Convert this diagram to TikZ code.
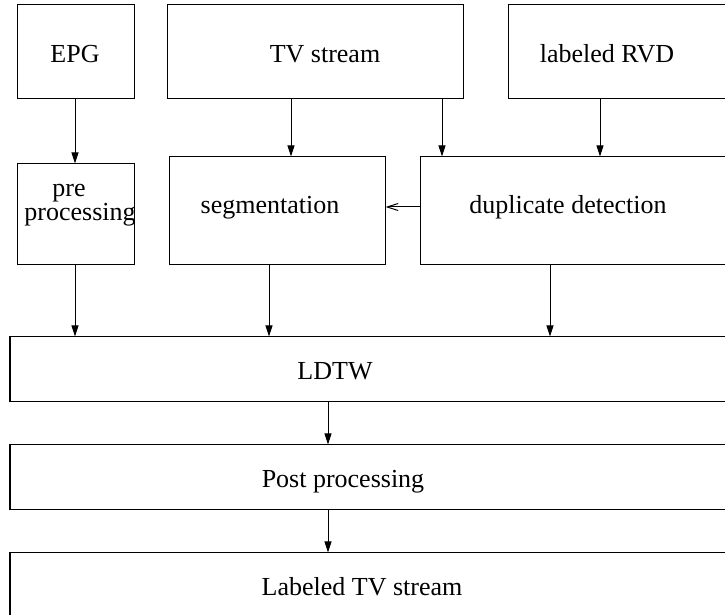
\documentclass[tikz,border=0pt]{standalone}
\usepackage{fontspec}
\setmainfont{Liberation Serif}
\usetikzlibrary{arrows.meta,fit}
\begin{document}
\begin{tikzpicture}[x=0.5pt,y=-0.5pt,
  box/.style={draw, line width=0.5pt, inner sep=0pt},
  lbl/.style={anchor=base, inner sep=0pt, font=\fontsize{13}{15.6}\selectfont},
  flow/.style={-{Triangle[length=5.5pt,width=3.5pt]}, line width=0.5pt},
  back/.style={-{Straight Barb[length=5.5pt,width=3.5pt]}, line width=0.5pt}]
\useasboundingbox (0,0) rectangle (725,615);
\clip (0,0) rectangle (725,615);

% input row
\node[box, fit={(17,5) (134,99)}]   (epg) {};
\node[box, fit={(167,5) (463,99)}]  (tv)  {};
\node[box, fit={(508,5) (745,99)}]  (rvd) {};

% analysis row
\node[box, fit={(17,164) (134,265)}]  (pre) {};
\node[box, fit={(169,157) (385,265)}] (seg) {};
\node[box, fit={(420,157) (745,265)}] (dup) {};

% processing chain
\node[box, fit={(10,337) (745,402)}] (ldtw) {};
\node[box, fit={(10,445) (745,510)}] (post) {};
\node[box, fit={(10,553) (745,640)}] (out)  {};

% labels
\node[lbl] (tepg) at (75,63)   {EPG};
\node[lbl] (ttv)  at (325,63)  {TV stream};
\node[lbl] (trvd) at (607,63)  {labeled RVD};
\node[lbl] (tpre1) at (69,197) {pre};
\node[lbl] (tpre2) at (80,221) {processing};
\node[lbl] (tseg) at (270,214) {segmentation};
\node[lbl] (tdup) at (568,214) {duplicate detection};
\node[lbl] (tldtw) at (335,380) {LDTW};
\node[lbl] (tpost) at (343,488) {Post processing};
\node[lbl] (tout)  at (362,596) {Labeled TV stream};

% connector columns
\coordinate (c1) at (75,0);
\coordinate (c2) at (291,0);
\coordinate (c3) at (442,0);
\coordinate (c4) at (600,0);
\coordinate (c5) at (269,0);
\coordinate (c6) at (550,0);
\coordinate (c7) at (328,0);
\coordinate (r1) at (0,207);

% connectors
\draw[flow] (epg.south -| c1) -- (pre.north -| c1);
\draw[flow] (tv.south -| c2)  -- (seg.north -| c2);
\draw[flow] (tv.south -| c3)  -- (dup.north -| c3);
\draw[flow] (rvd.south -| c4) -- (dup.north -| c4);
\draw[back] (dup.west |- r1)  -- (seg.east |- r1);
\draw[flow] (pre.south -| c1) -- (ldtw.north -| c1);
\draw[flow] (seg.south -| c5) -- (ldtw.north -| c5);
\draw[flow] (dup.south -| c6) -- (ldtw.north -| c6);
\draw[flow] (ldtw.south -| c7) -- (post.north -| c7);
\draw[flow] (post.south -| c7) -- (out.north -| c7);
\end{tikzpicture}
\end{document}
